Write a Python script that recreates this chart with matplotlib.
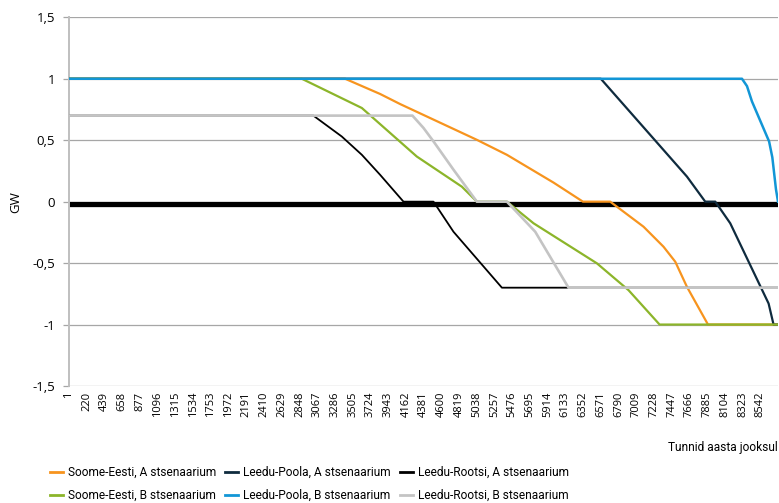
import matplotlib
matplotlib.use("Agg")
import matplotlib.pyplot as plt
from matplotlib.font_manager import FontProperties
from matplotlib.ticker import FixedLocator, FuncFormatter

# Hour-of-year breakpoints (x) and flow in GW (y) for each interconnector scenario
soome_a_h = [1, 3412, 3845, 4092, 5040, 5411, 5987, 6350, 6687, 7099, 7346, 7491, 7635, 7895, 8760]
soome_a_v = [1, 1, 0.876, 0.794, 0.503, 0.381, 0.155, 0, 0, -0.204, -0.367, -0.489, -0.693, -1, -1]

poola_a_h = [1, 6571, 7635, 7861, 7985, 8170, 8644, 8705, 8760]
poola_a_v = [1, 1, 0.204, 0, 0, -0.176, -0.829, -1, -1]

rootsi_a_h = [1, 3020, 3371, 3619, 3845, 4133, 4504, 4751, 5349, 8760]
rootsi_a_v = [0.7, 0.7, 0.53, 0.381, 0.218, 0, 0, -0.245, -0.7, -0.7]

soome_b_h = [1, 2877, 3619, 4298, 4854, 5040, 5411, 5740, 6523, 6913, 7297, 8760]
soome_b_v = [1, 1, 0.762, 0.367, 0.122, 0, 0, -0.176, -0.502, -0.72, -1, -1]

poola_b_h = [1, 8315, 8377, 8438, 8650, 8690, 8735, 8760]
poola_b_v = [1, 1, 0.94, 0.816, 0.49, 0.36, 0.1, 0]

rootsi_b_h = [1, 4244, 4380, 4504, 4751, 5040, 5411, 5761, 6172, 8760]
rootsi_b_v = [0.7, 0.7, 0.6, 0.49, 0.26, 0, 0, -0.245, -0.7, -0.7]

series_labels = [
    "Soome-Eesti, A stsenaarium",
    "Leedu-Poola, A stsenaarium",
    "Leedu-Rootsi, A stsenaarium",
    "Soome-Eesti, B stsenaarium",
    "Leedu-Poola, B stsenaarium",
    "Leedu-Rootsi, B stsenaarium",
]

hour_ticks = list(range(1, 8761, 219))
y_ticks = [-1.5, -1, -0.5, 0, 0.5, 1, 1.5]

series = [
    (soome_a_h, soome_a_v, "#F7941E", 1.6),
    (poola_a_h, poola_a_v, "#0F2B3E", 1.6),
    (rootsi_a_h, rootsi_a_v, "#000000", 1.3),
    (soome_b_h, soome_b_v, "#8CB52A", 1.6),
    (poola_b_h, poola_b_v, "#1296D6", 1.8),
    (rootsi_b_h, rootsi_b_v, "#C4C4C4", 1.9),
]

tick_font = ["Open Sans", "DejaVu Sans"]
legend_size = 8.6
legend_props = FontProperties(family=["Roboto", "DejaVu Sans"], size=legend_size)
PX = 100 / 72  # pixels per point

fig = plt.figure(figsize=(7.79, 5.03), dpi=100)
renderer = fig.canvas.get_renderer()

ax = fig.add_axes([69 / 779, 1 - 386 / 503, (778 - 69) / 779, (386 - 17.3) / 503])
ax.set_xlim(1, 8760)
ax.set_ylim(-1.5, 1.5)

# horizontal gridlines
for y in y_ticks:
    if y != 0:
        ax.axhline(y, color="#A6A6A6", lw=0.9, zorder=1)

# thick category axis line at zero
ax.axhline(-0.018, color="#000000", lw=3.8, zorder=2, solid_capstyle="butt")

for (h, v, c, lw), lab in zip(series, series_labels):
    ax.plot(h, v, color=c, lw=lw, label=lab, zorder=3, solid_joinstyle="round")

for side in ["top", "right", "bottom"]:
    ax.spines[side].set_visible(False)
ax.spines["left"].set_color("#BFBFBF")
ax.spines["left"].set_linewidth(1.4)

ax.yaxis.set_major_locator(FixedLocator(y_ticks))
ax.yaxis.set_major_formatter(FuncFormatter(lambda v, p: ("%g" % v).replace(".", ",")))
ax.tick_params(axis="y", length=4, width=0.9, color="#A6A6A6", pad=6,
               labelsize=9.5, labelcolor="#000000")
for t in ax.get_yticklabels():
    t.set_family(tick_font)

ax.xaxis.set_major_locator(FixedLocator(hour_ticks))
ax.set_xticklabels([str(h) for h in hour_ticks], rotation=90, fontsize=8,
                   family=tick_font)
ax.tick_params(axis="x", length=0, pad=4)

ax.set_ylabel("GW", fontsize=9.5, family=tick_font)
ax.yaxis.set_label_coords(-0.066, 0.5)

fig.text(778 / 779, 1 - 447 / 503, "Tunnid aasta jooksul", ha="right", va="center",
         fontproperties=legend_props)


def text_width(s):
    t = fig.text(0, 0, s, fontproperties=legend_props)
    w = t.get_window_extent(renderer).width
    t.remove()
    return w


# legend: three columns of two rows each, laid out left to right
handles, labels = ax.get_legend_handles_labels()
handle_px, pad_px, gap_px = 13, 5, 9
x = 50
for col in range(3):
    idx = [col, col + 3]
    leg = fig.legend([handles[i] for i in idx], [labels[i] for i in idx],
                     ncol=1, loc="upper left",
                     bbox_to_anchor=(x / 779, 1 - 466 / 503),
                     frameon=False, prop=legend_props,
                     handlelength=handle_px / (legend_size * PX),
                     handletextpad=pad_px / (legend_size * PX),
                     labelspacing=0.85, borderaxespad=0, borderpad=0)
    for line in leg.get_lines():
        line.set_linewidth(2.0)
    x += handle_px + pad_px + max(text_width(labels[i]) for i in idx) + gap_px

fig.savefig("out.png", dpi=100)
